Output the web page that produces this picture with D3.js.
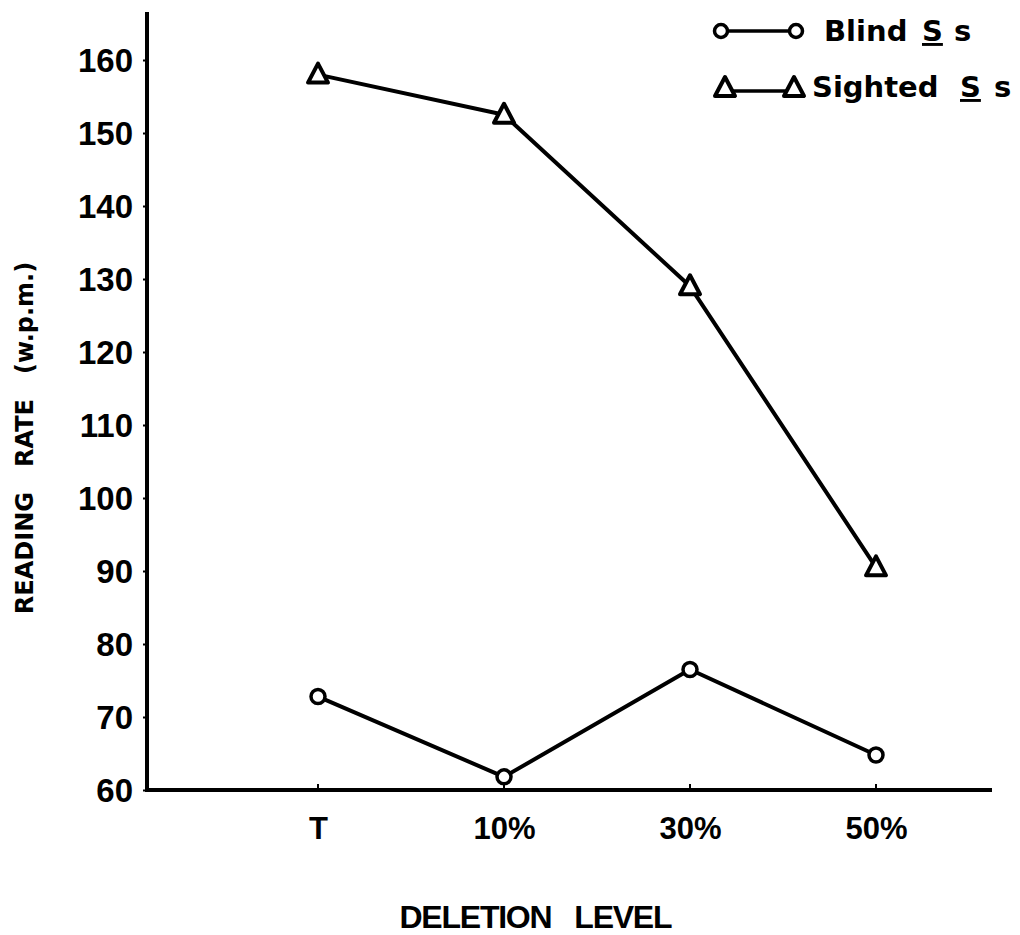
<!DOCTYPE html>
<html>
<head>
<meta charset="utf-8">
<script src="https://cdn.jsdelivr.net/npm/d3@7"></script>
<style>
  html, body { margin: 0; padding: 0; background: #fff; }
  svg { display: block; }
  text { font-family: "Liberation Sans", Arial, sans-serif; font-weight: bold; fill: #000; }
</style>
</head>
<body>
<svg id="chart" width="1020" height="935"></svg>
<script>
// Deletion levels on the x axis
const categories = ["T", "10%", "30%", "50%"];
// Reading rate (words per minute) for each group
const sightedValues = [158, 152.5, 129, 90.5];
const blindValues = [72.8, 61.8, 76.5, 64.8];
// Y axis tick values
const yTicks = [60, 70, 80, 90, 100, 110, 120, 130, 140, 150, 160];

const svg = d3.select("#chart");
const FONT = "Liberation Sans";
const WIDE = "DejaVu Sans";

const x = d3.scalePoint().domain(categories).range([318, 876]);
const y = d3.scaleLinear().domain([60, 160]).range([790, 60]);

const axisX0 = 147, axisX1 = 992, axisTop = 12;

// Y axis
const yAxis = d3.axisLeft(y).tickValues(yTicks).tickSize(4).tickPadding(10);
const gy = svg.append("g").attr("transform", `translate(${axisX0},0)`).call(yAxis);
gy.select(".domain").remove();
gy.selectAll(".tick line").attr("stroke", "#000").attr("stroke-width", 2);
gy.selectAll(".tick text")
  .style("font-size", "33px").style("font-family", FONT).style("font-weight", "bold")
  .attr("dy", "0.36em");
svg.append("line")
  .attr("x1", axisX0).attr("x2", axisX0)
  .attr("y1", axisTop).attr("y2", y(60) + 2)
  .attr("stroke", "#000").attr("stroke-width", 4);

// X axis
const xAxis = d3.axisBottom(x).tickSize(0).tickPadding(27);
const gx = svg.append("g").attr("transform", `translate(0,${y(60)})`).call(xAxis);
gx.select(".domain").remove();
gx.selectAll(".tick text")
  .style("font-size", "31px").style("font-family", FONT).style("font-weight", "bold");
svg.append("line")
  .attr("x1", axisX0 - 2).attr("x2", axisX1)
  .attr("y1", y(60)).attr("y2", y(60))
  .attr("stroke", "#000").attr("stroke-width", 4);
// small notches at each category
svg.selectAll(".xnotch").data(categories).enter().append("line")
  .attr("x1", d => x(d)).attr("x2", d => x(d))
  .attr("y1", y(60)).attr("y2", y(60) - 6)
  .attr("stroke", "#000").attr("stroke-width", 2);

// Axis titles
svg.append("text")
  .attr("transform", `translate(33,438) rotate(-90)`)
  .attr("text-anchor", "middle")
  .style("font-family", WIDE)
  .style("font-size", "24px")
  .attr("xml:space", "preserve")
  .text("READING   RATE   (w.p.m.)");
svg.append("text")
  .attr("x", 536).attr("y", 928)
  .attr("text-anchor", "middle")
  .style("font-size", "32px")
  .attr("textLength", 273).attr("lengthAdjust", "spacing")
  .attr("xml:space", "preserve")
  .text("DELETION   LEVEL");

// Lines
const line = d3.line().x((d, i) => x(categories[i])).y(d => y(d));
svg.append("path").datum(sightedValues).attr("d", line)
  .attr("fill", "none").attr("stroke", "#000").attr("stroke-width", 4).attr("stroke-linejoin", "round");
svg.append("path").datum(blindValues).attr("d", line)
  .attr("fill", "none").attr("stroke", "#000").attr("stroke-width", 4).attr("stroke-linejoin", "round");

// Markers
function triPath(cx, cy) {
  return `M${cx},${cy - 11} L${cx + 10},${cy + 8} L${cx - 10},${cy + 8} Z`;
}
svg.selectAll(".tri").data(sightedValues).enter().append("path")
  .attr("d", (d, i) => triPath(x(categories[i]), y(d)))
  .attr("fill", "#fff").attr("stroke", "#000").attr("stroke-width", 4).attr("stroke-linejoin", "round");
svg.selectAll(".circ").data(blindValues).enter().append("circle")
  .attr("cx", (d, i) => x(categories[i])).attr("cy", d => y(d)).attr("r", 7)
  .attr("fill", "#fff").attr("stroke", "#000").attr("stroke-width", 3.5);

// Legend
const lg = svg.append("g");
lg.append("line").attr("x1", 721).attr("x2", 796).attr("y1", 31).attr("y2", 31)
  .attr("stroke", "#000").attr("stroke-width", 3.5);
[721, 796].forEach(cx => lg.append("circle").attr("cx", cx).attr("cy", 31).attr("r", 6.5)
  .attr("fill", "#fff").attr("stroke", "#000").attr("stroke-width", 3.5));
lg.append("line").attr("x1", 725).attr("x2", 794).attr("y1", 91).attr("y2", 91)
  .attr("stroke", "#000").attr("stroke-width", 3.5);
[725, 794].forEach(cx => lg.append("path").attr("d", triPath(cx, 88))
  .attr("fill", "#fff").attr("stroke", "#000").attr("stroke-width", 4).attr("stroke-linejoin", "round"));

function legendLabel(xPos, yPos, name, sX, sx2) {
  const t = lg.append("text").attr("y", yPos).style("font-family", WIDE).style("font-size", "29px");
  t.append("tspan").attr("x", xPos).text(name);
  t.append("tspan").attr("x", sX).style("text-decoration", "underline").text("S");
  t.append("tspan").attr("x", sx2).text("s");
}
legendLabel(824, 41, "Blind", 922, 954);
legendLabel(812, 97, "Sighted", 960, 994);
</script>
</body>
</html>
